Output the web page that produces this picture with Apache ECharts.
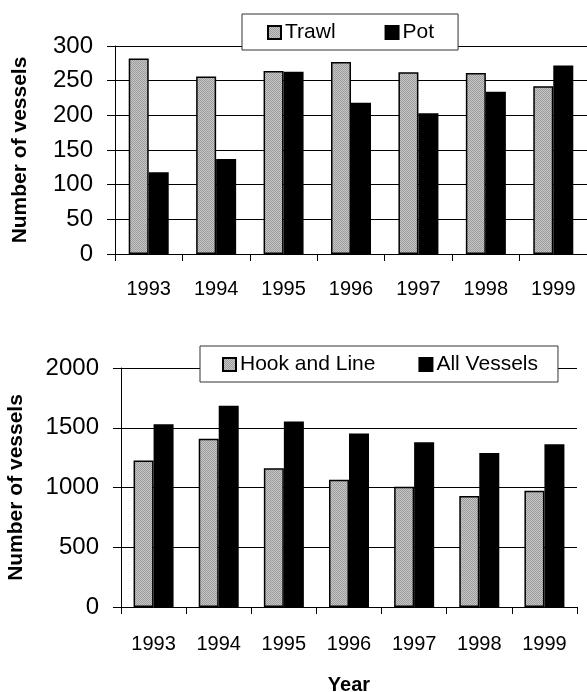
<!DOCTYPE html>
<html>
<head>
<meta charset="utf-8">
<script src="https://cdn.jsdelivr.net/npm/echarts@6/dist/echarts.min.js"></script>
<style>
  html, body { margin: 0; padding: 0; background: #fff; }
  #chart { width: 587px; height: 692px; }
</style>
</head>
<body>
<div id="chart"></div>
<script>
// Vessel counts by gear type, 1993-1999
var years = ['1993', '1994', '1995', '1996', '1997', '1998', '1999'];
var trawl = [282, 256, 264, 277, 262, 261, 242];
var pot = [118, 137, 263, 218, 203, 234, 272];
var hookAndLine = [1225, 1407, 1161, 1065, 1007, 929, 973];
var allVessels = [1530, 1684, 1552, 1451, 1379, 1289, 1362];
var topTicks = { min: 0, max: 300, interval: 50 };
var bottomTicks = { min: 0, max: 2000, interval: 500 };

// Fine stippled gray fill
function stipple() {
  var c = document.createElement('canvas');
  c.width = 2; c.height = 2;
  var g = c.getContext('2d');
  g.fillStyle = '#c6c6c6'; g.fillRect(0, 0, 2, 2);
  g.fillStyle = '#9c9c9c'; g.fillRect(0, 0, 1, 1); g.fillRect(1, 1, 1, 1);
  return { image: c, repeat: 'repeat' };
}
var dotted = stipple();

var FONT = '"Liberation Sans", Arial, sans-serif';

function yAxisFor(ticks, gridIndex, gap) {
  return {
    type: 'value', gridIndex: gridIndex,
    min: ticks.min, max: ticks.max, interval: ticks.interval,
    name: 'Number of vessels', nameLocation: 'middle', nameRotate: 90, nameGap: gap,
    nameTextStyle: { fontFamily: FONT, fontWeight: 'bold', fontSize: 21, color: '#000' },
    axisLine: { show: true, lineStyle: { color: '#000', width: 1 } },
    axisTick: { show: true, inside: false, length: 8, lineStyle: { color: '#000' } },
    axisLabel: {
      fontFamily: FONT, fontSize: 24, color: '#000', margin: 22,
      formatter: function (v) { return String(v); }
    },
    splitLine: { show: true, lineStyle: { color: '#000', width: 1 } }
  };
}
function xAxisFor(gridIndex, margin, extra) {
  var ax = {
    type: 'category', gridIndex: gridIndex, data: years,
    axisLine: { show: true, lineStyle: { color: '#000', width: 1 } },
    axisTick: { show: true, inside: false, length: 7, lineStyle: { color: '#000' } },
    axisLabel: { fontFamily: FONT, fontSize: 20, color: '#000', margin: margin },
    splitLine: { show: false }
  };
  for (var k in extra) ax[k] = extra[k];
  return ax;
}
function barSeries(name, data, idx, fill) {
  return {
    type: 'bar', name: name, data: data,
    xAxisIndex: idx, yAxisIndex: idx,
    barWidth: 20, barGap: '0%',
    itemStyle: { color: fill, borderColor: '#000', borderWidth: 1.5 },
    emphasis: { disabled: true }
  };
}
function legendFor(names, left, top, gap, padding) {
  return {
    data: names, left: left, top: top, orient: 'horizontal',
    itemWidth: 13, itemHeight: 13, itemGap: gap, icon: 'rect',
    backgroundColor: '#fff', borderColor: '#333', borderWidth: 1,
    padding: padding, selectedMode: false,
    textStyle: { fontFamily: FONT, fontSize: 21, color: '#000', padding: [0, 0, 0, -1] }
  };
}

var chart = echarts.init(document.getElementById('chart'), null, { renderer: 'canvas' });
chart.setOption({
  animation: false,
  backgroundColor: '#fff',
  grid: [
    { left: 115, top: 46, width: 472, height: 208, outerBoundsMode: 'none', containLabel: false },
    { left: 121, top: 368, width: 456, height: 239, outerBoundsMode: 'none', containLabel: false }
  ],
  legend: [
    legendFor(['Trawl', 'Pot'], 242, 14, 49, [8, 24, 7, 25]),
    legendFor(['Hook and Line', 'All Vessels'], 200, 346, 43, [8, 20, 7, 22])
  ],
  xAxis: [
    xAxisFor(0, 25, {}),
    xAxisFor(1, 27, {
      name: 'Year', nameLocation: 'middle', nameGap: 68,
      nameTextStyle: { fontFamily: FONT, fontWeight: 'bold', fontSize: 20, color: '#000' }
    })
  ],
  yAxis: [
    yAxisFor(topTicks, 0, 84),
    yAxisFor(bottomTicks, 1, 94)
  ],
  series: [
    barSeries('Trawl', trawl, 0, dotted),
    barSeries('Pot', pot, 0, '#000'),
    barSeries('Hook and Line', hookAndLine, 1, dotted),
    barSeries('All Vessels', allVessels, 1, '#000')
  ]
});
</script>
</body>
</html>
